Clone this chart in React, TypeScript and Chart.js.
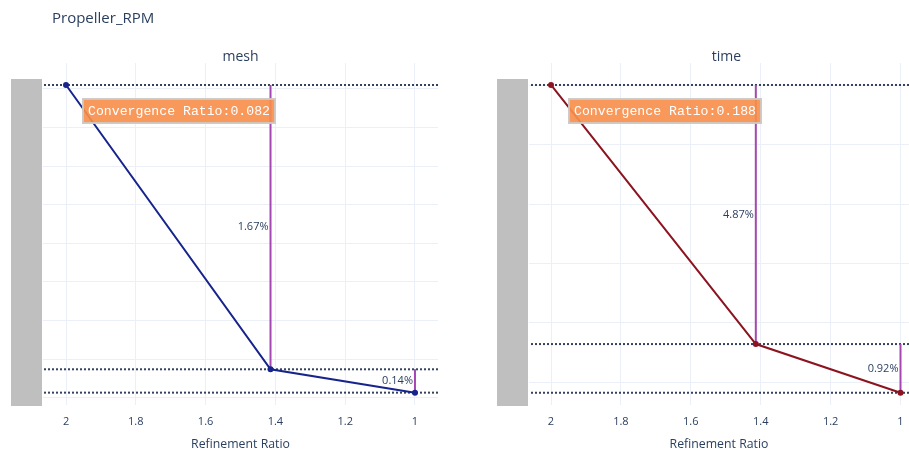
import React, { useEffect, useRef } from 'react';
import { Chart, registerables } from 'chart.js';

Chart.register(...registerables);

// ---------- data ----------
const chartTitle = 'Propeller_RPM';
const xAxisTitle = 'Refinement Ratio';
const refinementRatios = [2, 1.414, 1];
const xTickValues = [2, 1.8, 1.6, 1.4, 1.2, 1];

const meshTitle = 'mesh';
const meshValues = [4481.0, 4407.35, 4401.3];
const meshYTicks = [4400, 4410, 4420, 4430, 4440, 4450, 4460, 4470, 4480];
const meshDiffLabels = ['1.67%', '0.14%'];
const meshConvergence = 'Convergence Ratio:0.082';

const timeTitle = 'time';
const timeValues = [4700.3, 4482.2, 4441.2];
const timeYTicks = [4450, 4500, 4550, 4600, 4650, 4700];
const timeDiffLabels = ['4.87%', '0.92%'];
const timeConvergence = 'Convergence Ratio:0.188';

// ---------- styles ----------
const TEXT_COLOR = '#2a3f5f';
const GRID_COLOR = '#ebf0f8';
const DOT_COLOR = '#34425e';
const DIFF_COLOR = '#a447b2';
const FONT = '"Open Sans", "Noto Sans", sans-serif';

type PanelSpec = {
  title: string;
  mainTitle?: string;
  values: number[];
  yTicks: number[];
  diffLabels: string[];
  convergence: string;
  color: string;
  yMin: number;
  yMax: number;
  xMin: number;
  xMax: number;
  canvasLeft: number;
  canvasWidth: number;
  padLeft: number;
  padRight: number;
};

function makeOverlay(spec: PanelSpec) {
  return {
    id: 'overlay',
    beforeDraw(chart: any) {
      const { ctx, chartArea } = chart;
      ctx.save();
      ctx.fillStyle = '#bfbfbf';
      ctx.fillRect(chartArea.left - 32, 79, 31, 327);
      if (spec.mainTitle) {
        ctx.font = `15px ${FONT}`;
        ctx.fillStyle = TEXT_COLOR;
        ctx.textAlign = 'left';
        ctx.textBaseline = 'alphabetic';
        ctx.fillText(spec.mainTitle, 52, 22.5);
      }
      ctx.font = `14px ${FONT}`;
      ctx.fillStyle = TEXT_COLOR;
      ctx.textAlign = 'center';
      ctx.textBaseline = 'alphabetic';
      ctx.fillText(spec.title, chartArea.left + 197.5, 60.5);
      ctx.restore();
    },
    afterDatasetsDraw(chart: any) {
      const { ctx, chartArea } = chart;
      const xs = chart.scales.x;
      const ys = chart.scales.y;
      ctx.save();
      ctx.font = `11px ${FONT}`;
      ctx.fillStyle = TEXT_COLOR;
      ctx.textAlign = 'right';
      ctx.textBaseline = 'middle';
      for (let i = 0; i < spec.diffLabels.length; i++) {
        const px = xs.getPixelForValue(refinementRatios[i + 1]);
        const py = (ys.getPixelForValue(spec.values[i]) + ys.getPixelForValue(spec.values[i + 1])) / 2;
        ctx.fillText(spec.diffLabels[i], px - 2, py);
      }
      // convergence box
      ctx.font = '13.2px "Liberation Mono", "DejaVu Sans Mono", monospace';
      const tw = ctx.measureText(spec.convergence).width;
      const bx = chartArea.left + 40;
      const by = 99;
      const bh = 24;
      const bw = tw + 10;
      ctx.fillStyle = 'rgba(247,143,76,0.92)';
      ctx.fillRect(bx, by, bw, bh);
      ctx.strokeStyle = 'rgba(205,200,196,0.95)';
      ctx.lineWidth = 2;
      ctx.strokeRect(bx, by, bw, bh);
      ctx.fillStyle = '#ffffff';
      ctx.textAlign = 'left';
      ctx.textBaseline = 'middle';
      ctx.fillText(spec.convergence, bx + 5, by + bh / 2 + 0.5);
      ctx.restore();
    },
  };
}

function buildConfig(spec: PanelSpec): any {
  const mainLine = {
    data: refinementRatios.map((r, i) => ({ x: r, y: spec.values[i] })),
    borderColor: spec.color,
    backgroundColor: spec.color,
    borderWidth: 2,
    pointRadius: 3,
    pointBorderWidth: 0,
    showLine: true,
  };
  const diffLines = spec.diffLabels.map((_, i) => ({
    data: [
      { x: refinementRatios[i + 1], y: spec.values[i] },
      { x: refinementRatios[i + 1], y: spec.values[i + 1] },
    ],
    borderColor: DIFF_COLOR,
    borderWidth: 2,
    pointRadius: 0,
    showLine: true,
  }));
  const dotLines = spec.values.map((v) => ({
    data: [
      { x: spec.xMin, y: v },
      { x: spec.xMax, y: v },
    ],
    borderColor: DOT_COLOR,
    borderWidth: 2,
    borderDash: [2, 2],
    pointRadius: 0,
    showLine: true,
  }));

  return {
    type: 'scatter',
    data: { datasets: [mainLine, ...diffLines, ...dotLines] },
    plugins: [makeOverlay(spec)],
    options: {
      animation: false,
      responsive: false,
      events: [],
      layout: {
        autoPadding: false,
        padding: { left: spec.padLeft, right: spec.padRight, top: 63, bottom: 0 },
      },
      elements: { line: { tension: 0 } },
      plugins: {
        legend: { display: false },
        tooltip: { enabled: false },
        title: { display: false },
      },
      scales: {
        x: {
          type: 'linear',
          reverse: true,
          min: spec.xMin,
          max: spec.xMax,
          afterBuildTicks: (s: any) => {
            s.ticks = xTickValues.map((v) => ({ value: v }));
          },
          afterFit: (s: any) => {
            s.height = 47;
          },
          grid: {
            color: GRID_COLOR,
            lineWidth: 1,
            drawTicks: true,
            tickLength: 10,
            tickColor: 'rgba(0,0,0,0)',
          },
          border: { display: false },
          ticks: {
            autoSkip: false,
            maxRotation: 0,
            padding: 0,
            color: TEXT_COLOR,
            font: { family: FONT, size: 11 },
            callback: (v: any) => String(v),
          },
          title: {
            display: true,
            text: xAxisTitle,
            color: TEXT_COLOR,
            font: { family: FONT, size: 12.3 },
            padding: { top: 0, bottom: 0 },
          },
        },
        y: {
          type: 'linear',
          min: spec.yMin,
          max: spec.yMax,
          afterBuildTicks: (s: any) => {
            s.ticks = spec.yTicks.map((v) => ({ value: v }));
          },
          afterFit: (s: any) => {
            s.width = 0;
          },
          grid: { color: GRID_COLOR, lineWidth: 1, drawTicks: false },
          border: { display: false },
          ticks: { display: false },
        },
      },
    },
  };
}

const meshSpec: PanelSpec = {
  title: meshTitle,
  mainTitle: chartTitle,
  values: meshValues,
  yTicks: meshYTicks,
  diffLabels: meshDiffLabels,
  convergence: meshConvergence,
  color: '#16248c',
  yMin: 4398.1,
  yMax: 4486.7,
  xMin: 0.934,
  xMax: 2.066,
  canvasLeft: 0,
  canvasWidth: 460,
  padLeft: 43,
  padRight: 22,
};

const timeSpec: PanelSpec = {
  title: timeTitle,
  values: timeValues,
  yTicks: timeYTicks,
  diffLabels: timeDiffLabels,
  convergence: timeConvergence,
  color: '#8b1420',
  yMin: 4430.9,
  yMax: 4718.8,
  xMin: 0.9757,
  xMax: 2.063,
  canvasLeft: 460,
  canvasWidth: 449,
  padLeft: 69,
  padRight: 0,
};

function Panel({ spec }: { spec: PanelSpec }) {
  const ref = useRef<HTMLCanvasElement>(null);
  useEffect(() => {
    const chart = new Chart(ref.current as HTMLCanvasElement, buildConfig(spec));
    return () => chart.destroy();
  }, [spec]);
  return (
    <canvas
      ref={ref}
      width={spec.canvasWidth}
      height={452}
      style={{
        position: 'absolute',
        left: spec.canvasLeft,
        top: 0,
        width: spec.canvasWidth,
        height: 452,
      }}
    />
  );
}

export default function App() {
  return (
    <div
      style={{
        position: 'absolute',
        left: 0,
        top: 0,
        width: 909,
        height: 452,
        overflow: 'hidden',
        background: '#ffffff',
      }}
    >
      <Panel spec={meshSpec} />
      <Panel spec={timeSpec} />
    </div>
  );
}
